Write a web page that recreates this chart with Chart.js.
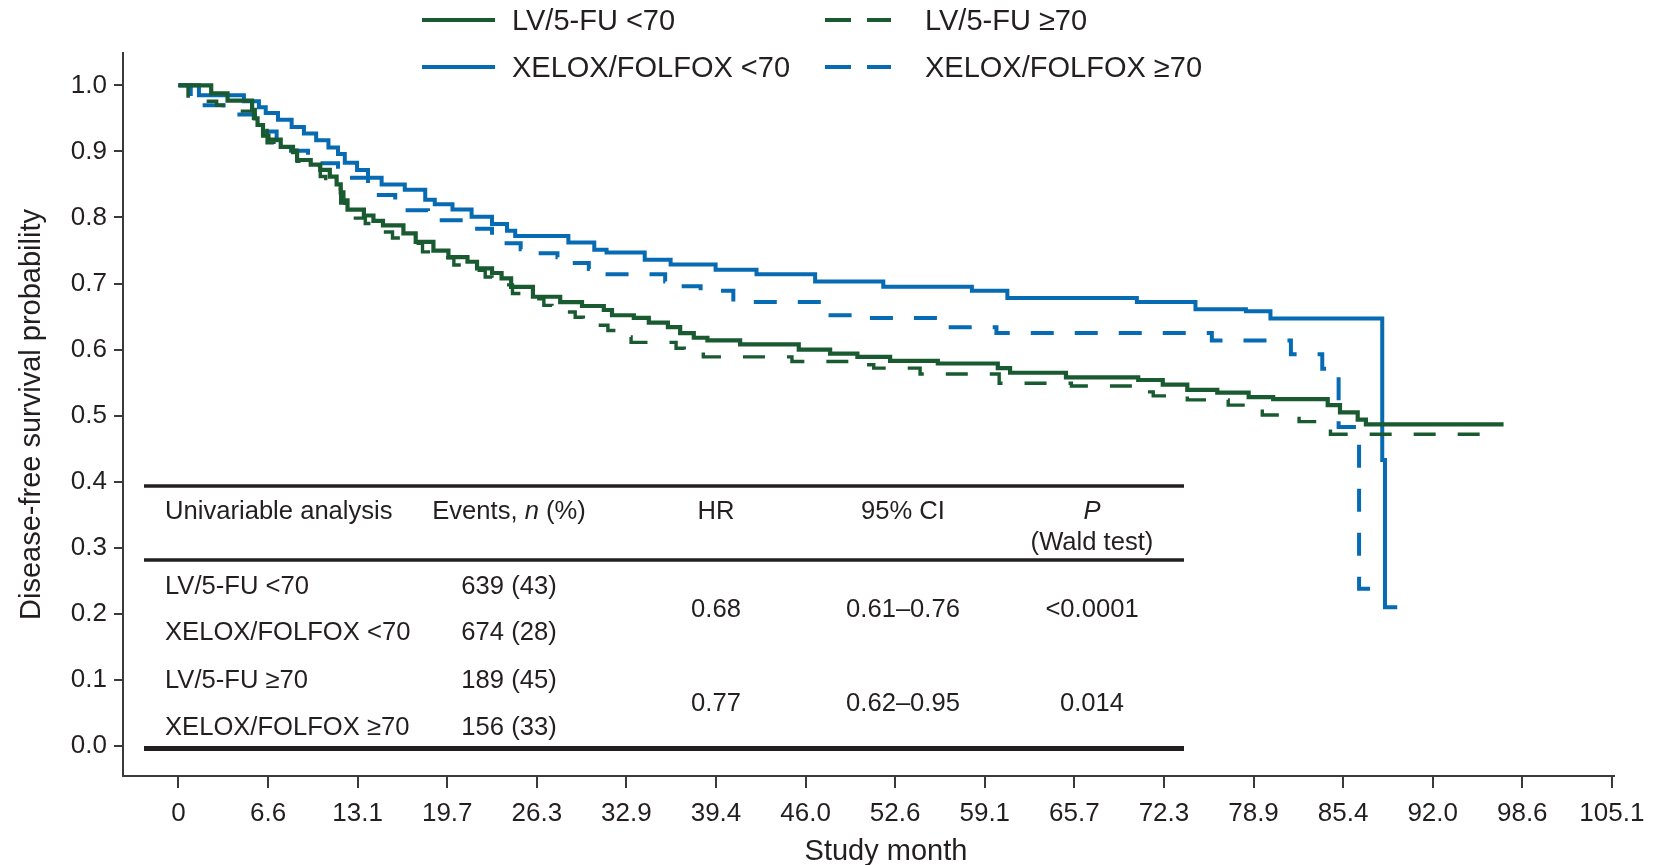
<!DOCTYPE html>
<html><head><meta charset="utf-8">
<script src="https://cdn.jsdelivr.net/npm/chart.js@4.4.1/dist/chart.umd.min.js"></script>
<style>html,body{margin:0;padding:0;background:#fff;}#wrap{position:relative;width:1673px;height:865px;}</style>
</head><body><div id="wrap"><canvas id="c" width="1673" height="865"></canvas></div>
<script>
// ---------- data ----------
const seriesLabels = ['LV/5-FU <70', 'LV/5-FU ≥70', 'XELOX/FOLFOX <70', 'XELOX/FOLFOX ≥70'];

const lvYoungTime = [0, 2.4, 3.6, 5.4, 5.6, 5.8, 6.2, 6.6, 7.5, 8.4, 8.7, 9.7, 10.4, 11.1, 11.6, 11.9, 12.1, 12.4, 13.6, 14.3, 15.0, 16.5, 17.4, 18.7, 19.8, 21.2, 21.9, 23.0, 23.7, 24.4, 26.0, 28.0, 29.6, 31.2, 31.8, 33.4, 34.5, 35.9, 36.8, 37.8, 38.8, 41.2, 45.5, 47.8, 49.8, 52.2, 55.7, 60.1, 61.0, 65.1, 70.4, 72.2, 74.0, 76.2, 78.5, 80.3, 84.3, 85.2, 86.5, 87.1, 97.2];
const lvYoungSurv = [1.0, 0.988, 0.977, 0.963, 0.950, 0.940, 0.924, 0.918, 0.907, 0.899, 0.887, 0.880, 0.872, 0.862, 0.850, 0.838, 0.826, 0.812, 0.803, 0.795, 0.788, 0.776, 0.763, 0.750, 0.740, 0.733, 0.723, 0.716, 0.708, 0.695, 0.680, 0.672, 0.666, 0.660, 0.652, 0.648, 0.641, 0.634, 0.625, 0.618, 0.614, 0.608, 0.600, 0.594, 0.589, 0.583, 0.579, 0.572, 0.565, 0.558, 0.554, 0.547, 0.539, 0.535, 0.528, 0.525, 0.516, 0.505, 0.494, 0.487, 0.487];

const lvOldTime = [0, 0.7, 1.2, 2.8, 3.3, 5.5, 5.9, 6.5, 7.0, 8.7, 9.3, 10.4, 10.8, 11.9, 12.2, 13.7, 14.2, 15.7, 16.3, 17.9, 18.5, 20.2, 20.8, 22.5, 23.0, 24.5, 25.1, 26.8, 27.4, 29.1, 29.7, 31.5, 32.3, 33.2, 36.5, 37.1, 38.5, 45.0, 49.2, 51.0, 54.4, 60.2, 65.5, 70.4, 71.5, 74.0, 77.0, 79.5, 82.2, 84.5, 96.2];
const lvOldSurv = [1.0, 0.984, 0.976, 0.970, 0.961, 0.950, 0.943, 0.913, 0.902, 0.885, 0.878, 0.862, 0.843, 0.822, 0.799, 0.791, 0.778, 0.769, 0.761, 0.748, 0.739, 0.728, 0.720, 0.710, 0.698, 0.685, 0.677, 0.667, 0.657, 0.649, 0.637, 0.629, 0.619, 0.611, 0.602, 0.593, 0.589, 0.582, 0.577, 0.572, 0.563, 0.549, 0.545, 0.536, 0.530, 0.524, 0.516, 0.501, 0.491, 0.472, 0.472];

const xeloxYoungTime = [0, 1.5, 4.8, 5.9, 6.4, 7.3, 8.3, 9.2, 10.1, 11.0, 11.7, 12.2, 13.1, 13.9, 14.9, 16.6, 18.1, 18.8, 20.1, 21.5, 23.0, 24.1, 24.7, 28.6, 30.5, 31.4, 34.2, 36.1, 39.4, 42.4, 46.7, 51.7, 58.2, 60.8, 70.3, 74.6, 78.3, 80.1, 88.3, 88.5, 89.4];
const xeloxYoungSurv = [1.0, 0.985, 0.976, 0.967, 0.958, 0.948, 0.937, 0.927, 0.917, 0.906, 0.896, 0.883, 0.872, 0.860, 0.850, 0.842, 0.827, 0.820, 0.812, 0.801, 0.790, 0.780, 0.772, 0.762, 0.751, 0.747, 0.736, 0.729, 0.721, 0.714, 0.703, 0.695, 0.689, 0.678, 0.672, 0.661, 0.658, 0.647, 0.433, 0.210, 0.210];

const xeloxOldTime = [0, 0.9, 1.5, 3.3, 3.6, 5.6, 6.0, 7.2, 7.8, 9.5, 10.1, 11.7, 12.3, 13.9, 14.3, 15.9, 16.5, 18.3, 19.0, 20.7, 21.3, 23.0, 23.6, 25.1, 26.0, 27.8, 28.6, 30.1, 31.0, 35.7, 36.6, 38.3, 40.7, 47.5, 50.0, 56.4, 60.0, 75.8, 81.6, 83.9, 84.5, 85.1, 86.6, 88.7];
const xeloxOldSurv = [1.0, 0.979, 0.970, 0.963, 0.956, 0.946, 0.930, 0.910, 0.901, 0.892, 0.882, 0.872, 0.860, 0.852, 0.834, 0.823, 0.811, 0.806, 0.796, 0.791, 0.783, 0.772, 0.761, 0.752, 0.746, 0.740, 0.731, 0.722, 0.714, 0.703, 0.696, 0.689, 0.672, 0.652, 0.648, 0.634, 0.625, 0.614, 0.593, 0.571, 0.559, 0.483, 0.238, 0.238];

const xTickValues = [0, 6.571, 13.143, 19.714, 26.286, 32.857, 39.429, 46.0, 52.571, 59.143, 65.714, 72.286, 78.857, 85.429, 92.0, 98.571, 105.143];
const xTickLabels = ['0', '6.6', '13.1', '19.7', '26.3', '32.9', '39.4', '46.0', '52.6', '59.1', '65.7', '72.3', '78.9', '85.4', '92.0', '98.6', '105.1'];
const yTickValues = [0, 0.1, 0.2, 0.3, 0.4, 0.5, 0.6, 0.7, 0.8, 0.9, 1.0];
const yTickLabels = ['0.0', '0.1', '0.2', '0.3', '0.4', '0.5', '0.6', '0.7', '0.8', '0.9', '1.0'];

const tableHeader = ['Univariable analysis', 'Events, n (%)', 'HR', '95% CI', 'P', '(Wald test)'];
const tableGroups = ['LV/5-FU <70', 'XELOX/FOLFOX <70', 'LV/5-FU ≥70', 'XELOX/FOLFOX ≥70'];
const tableEvents = ['639 (43)', '674 (28)', '189 (45)', '156 (33)'];
const tableHR = ['0.68', '0.77'];
const tableCI = ['0.61–0.76', '0.62–0.95'];
const tableP = ['<0.0001', '0.014'];

// ---------- styling ----------
const GREEN = '#195a31';
const BLUE = '#066bb3';
const INK = '#231f20';
const AXIS = '#3a3a3a';
const FAMILY = '"Liberation Sans", Arial, Helvetica, sans-serif';

function pts(t, s) { return t.map((v, i) => ({ x: v, y: s[i] })); }

const datasets = [
  { label: seriesLabels[0], data: pts(lvYoungTime, lvYoungSurv), borderColor: GREEN, borderWidth: 4.2, borderDash: [] },
  { label: seriesLabels[1], data: pts(lvOldTime, lvOldSurv), borderColor: GREEN, borderWidth: 3.4, borderDash: [22, 22] },
  { label: seriesLabels[2], data: pts(xeloxYoungTime, xeloxYoungSurv), borderColor: BLUE, borderWidth: 4, borderDash: [] },
  { label: seriesLabels[3], data: pts(xeloxOldTime, xeloxOldSurv), borderColor: BLUE, borderWidth: 4, borderDash: [23, 21] }
].map(d => Object.assign(d, { stepped: 'before', pointRadius: 0, fill: false, tension: 0, borderCapStyle: 'butt', borderJoinStyle: 'miter' }));

// ---------- plugins: legend, x title, table ----------
const decor = {
  id: 'decor',
  afterDraw(chart) {
    const ctx = chart.ctx;
    ctx.save();
    ctx.fillStyle = INK;
    ctx.textBaseline = 'middle';
    // legend (2 x 2)
    const legendOrder = [0, 1, 2, 3];
    const colLine = [[422, 495], [825, 891]];
    const colText = [512, 925];
    const rowY = [20, 67];
    ctx.font = '29px ' + FAMILY;
    legendOrder.forEach((di, k) => {
      const ds = chart.data.datasets[di];
      const col = k % 2, row = Math.floor(k / 2);
      ctx.save();
      ctx.strokeStyle = ds.borderColor;
      ctx.lineWidth = 4;
      ctx.lineCap = 'butt';
      ctx.setLineDash(ds.borderDash.length ? [26, 16] : []);
      ctx.beginPath();
      ctx.moveTo(colLine[col][0], rowY[row]);
      ctx.lineTo(colLine[col][1], rowY[row]);
      ctx.stroke();
      ctx.restore();
      ctx.textAlign = 'left';
      ctx.fillText(ds.label, colText[col], rowY[row] + 2);
    });

    // x-axis title
    ctx.font = '29px ' + FAMILY;
    ctx.textAlign = 'center';
    ctx.fillText('Study month', 886, 852);

    // table
    const x0 = 144, x1 = 1184;
    ctx.strokeStyle = INK;
    [[486, 3.5], [560, 3.5], [748.5, 5]].forEach(([y, w]) => {
      ctx.lineWidth = w;
      ctx.beginPath(); ctx.moveTo(x0, y); ctx.lineTo(x1, y); ctx.stroke();
    });
    const fs = '25.6px ' + FAMILY, fi = 'italic 25.6px ' + FAMILY;
    const cEvents = 509, cHR = 716, cCI = 903, cP = 1092, left = 165;
    const dy = 2.5;
    const hy = 509 + dy;
    ctx.font = fs;
    ctx.textAlign = 'left';
    ctx.fillText(tableHeader[0], left, hy);
    // "Events, n (%)" with italic n
    const partA = 'Events, ', partB = 'n', partC = ' (%)';
    ctx.font = fs; const wA = ctx.measureText(partA).width, wC = ctx.measureText(partC).width;
    ctx.font = fi; const wB = ctx.measureText(partB).width;
    let sx = cEvents - (wA + wB + wC) / 2;
    ctx.font = fs; ctx.fillText(partA, sx, hy);
    ctx.font = fi; ctx.fillText(partB, sx + wA, hy);
    ctx.font = fs; ctx.fillText(partC, sx + wA + wB, hy);
    ctx.textAlign = 'center';
    ctx.fillText(tableHeader[2], cHR, hy);
    ctx.fillText(tableHeader[3], cCI, hy);
    ctx.font = fi; ctx.fillText(tableHeader[4], cP, hy);
    ctx.font = fs; ctx.fillText(tableHeader[5], cP, 540 + dy);

    const rowYs = [584, 630, 678, 725];
    const grpYs = [607.5, 701];
    tableGroups.forEach((g, i) => {
      ctx.textAlign = 'left'; ctx.fillText(g, left, rowYs[i] + dy);
      ctx.textAlign = 'center'; ctx.fillText(tableEvents[i], cEvents, rowYs[i] + dy);
    });
    tableHR.forEach((h, i) => {
      ctx.fillText(h, cHR, grpYs[i] + dy);
      ctx.fillText(tableCI[i], cCI, grpYs[i] + dy);
      ctx.fillText(tableP[i], cP, grpYs[i] + dy);
    });
    ctx.restore();
  }
};

new Chart(document.getElementById('c'), {
  type: 'line',
  data: { datasets },
  options: {
    responsive: false,
    animation: false,
    devicePixelRatio: 1,
    layout: { padding: { left: 0, right: 59, top: 53, bottom: 0 } },
    plugins: { legend: { display: false }, tooltip: { enabled: false }, title: { display: false } },
    scales: {
      x: {
        type: 'linear',
        min: -4.07, max: 105.3,
        afterFit(s) { s.height = 89; },
        afterBuildTicks(s) { s.ticks = xTickValues.map(v => ({ value: v })); },
        ticks: {
          autoSkip: false, maxRotation: 0, padding: 10, color: INK,
          font: { family: FAMILY, size: 26 },
          callback: (v, i) => xTickLabels[i]
        },
        grid: { drawOnChartArea: false, drawTicks: true, tickLength: 12, color: AXIS, lineWidth: 2 },
        border: { display: true, color: AXIS, width: 2 },
        title: { display: false }
      },
      y: {
        type: 'linear',
        min: -0.0454, max: 1.049,
        afterFit(s) { s.width = 123; },
        afterBuildTicks(s) { s.ticks = yTickValues.map(v => ({ value: v })); },
        ticks: {
          autoSkip: false, padding: 7, color: INK,
          font: { family: FAMILY, size: 26 },
          callback: (v, i) => yTickLabels[i]
        },
        grid: { drawOnChartArea: false, drawTicks: true, tickLength: 9, color: AXIS, lineWidth: 2 },
        border: { display: true, color: AXIS, width: 2 },
        title: {
          display: true, text: 'Disease-free survival probability', color: INK,
          font: { family: FAMILY, size: 29 }, padding: { top: 15, bottom: 0 }
        }
      }
    }
  },
  plugins: [decor]
});
</script></body></html>
